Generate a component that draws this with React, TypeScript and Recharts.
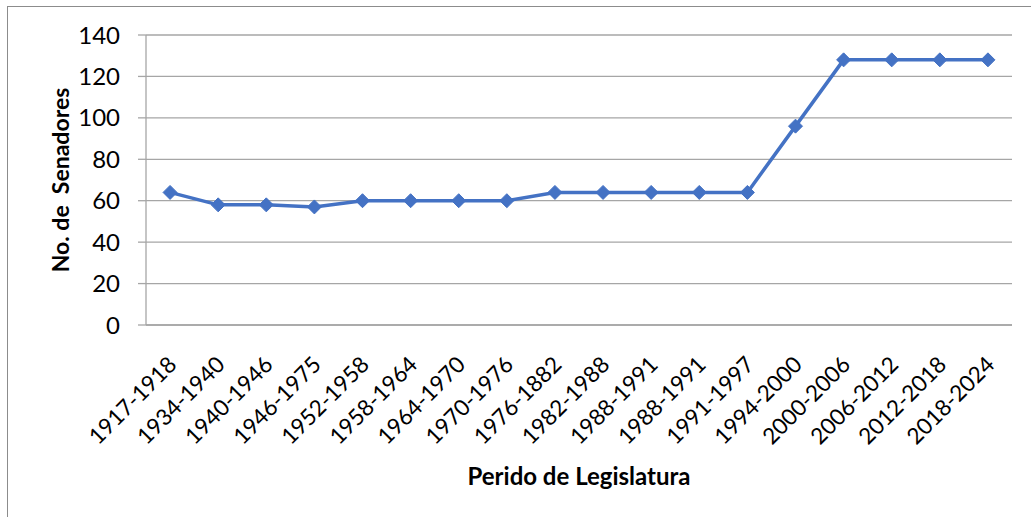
import { LineChart, Line, XAxis, YAxis, CartesianGrid } from "recharts";

const periods = [
  "1917-1918",
  "1934-1940",
  "1940-1946",
  "1946-1975",
  "1952-1958",
  "1958-1964",
  "1964-1970",
  "1970-1976",
  "1976-1882",
  "1982-1988",
  "1988-1991",
  "1988-1991",
  "1991-1997",
  "1994-2000",
  "2000-2006",
  "2006-2012",
  "2012-2018",
  "2018-2024",
];
const senators = [64, 58, 58, 57, 60, 60, 60, 60, 64, 64, 64, 64, 64, 96, 128, 128, 128, 128];
const yTicks = [0, 20, 40, 60, 80, 100, 120, 140];

const data = periods.map((p, i) => ({ idx: i, period: p, senadores: senators[i] }));

const FONT = "Lato, 'Liberation Sans', sans-serif";
const BLUE = "#4472C4";
const GRID = "#a6a6a6";

function Diamond(props: any) {
  const { cx, cy } = props;
  if (cx == null || cy == null) return null;
  const r = 7;
  return (
    <polygon
      points={`${cx},${cy - r} ${cx + r},${cy} ${cx},${cy + r} ${cx - r},${cy}`}
      fill={BLUE}
      stroke={BLUE}
    />
  );
}

function XTick(props: any) {
  const { x, y, payload } = props;
  const tx = x + 2;
  const ty = y + 27;
  return (
    <text
      x={tx}
      y={ty}
      transform={`rotate(-45, ${tx}, ${ty})`}
      textAnchor="end"
      dominantBaseline="central"
      fontSize={22.5}
      fontFamily={FONT}
      fill="#000"
    >
      {periods[payload.value]}
    </text>
  );
}

export default function App() {
  return (
    <div style={{ position: "absolute", left: 0, top: 0, width: 1031, height: 517, background: "#fff" }}>
      {/* chart frame, only top and left edges are visible */}
      <div
        style={{
          position: "absolute",
          left: 7,
          top: 6,
          width: 1024,
          height: 511,
          borderTop: "1px solid #8c8c8c",
          borderLeft: "1px solid #8c8c8c",
        }}
      />
      <LineChart
        width={1031}
        height={517}
        data={data}
        margin={{ top: 35, right: 19, bottom: 0, left: 0 }}
        style={{ position: "absolute", left: 0, top: 0 }}
      >
        <CartesianGrid vertical={false} stroke={GRID} strokeWidth={1.3} />
        <XAxis
          dataKey="idx"
          type="category"
          scale="band"
          height={192}
          interval={0}
          tickLine={false}
          axisLine={{ stroke: GRID, strokeWidth: 1.5 }}
          tick={<XTick />}
          label={{
            value: "Perido de Legislatura",
            position: "insideBottom",
            offset: 32,
            style: { fontFamily: FONT, fontSize: 24, fontWeight: 700, fill: "#000" },
          }}
        />
        <YAxis
          width={146}
          domain={[0, 140]}
          ticks={yTicks}
          interval={0}
          tickSize={8}
          tickMargin={18}
          tickLine={{ stroke: GRID, strokeWidth: 1.3 }}
          axisLine={{ stroke: GRID, strokeWidth: 1.3 }}
          tick={{ fontFamily: FONT, fontSize: 24, fill: "#000" }}
          label={{
            value: "No. de\u00A0 Senadores",
            angle: -90,
            position: "insideLeft",
            offset: 61,
            style: { fontFamily: FONT, fontSize: 23, fontWeight: 700, fill: "#000", textAnchor: "middle" },
          }}
        />
        <Line
          type="linear"
          dataKey="senadores"
          stroke={BLUE}
          strokeWidth={3.5}
          dot={<Diamond />}
          activeDot={false}
          isAnimationActive={false}
        />
      </LineChart>
    </div>
  );
}
